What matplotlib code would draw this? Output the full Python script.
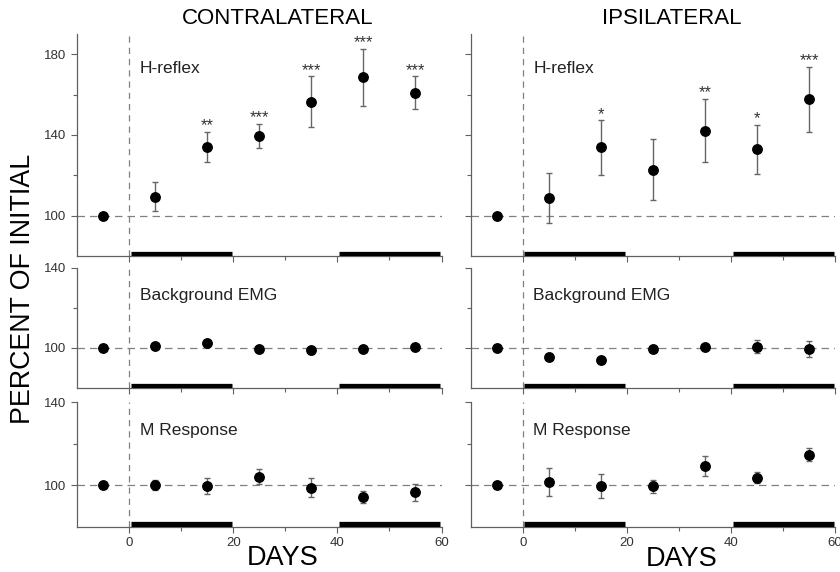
import numpy as np
import matplotlib.pyplot as plt

plt.rcParams['font.family'] = ['Liberation Sans', 'DejaVu Sans']

days = [-5, 5, 15, 25, 35, 45, 55]

# contralateral
contra_h = [100, 109.5, 134, 139.5, 156.5, 168.5, 161]
contra_h_err = [0, 7, 7.5, 6, 12.5, 14, 8]
contra_h_stars = ['', '', '**', '***', '***', '***', '***']
contra_emg = [100, 100.8, 102.3, 99.5, 98.8, 99.7, 100.7]
contra_emg_err = [0, 0.8, 0.8, 0.8, 1.8, 1.5, 1.2]
contra_m = [100, 100.2, 99.7, 104.2, 98.9, 94.4, 96.6]
contra_m_err = [0, 2.5, 3.8, 3.5, 4.6, 3, 4]

# ipsilateral
ipsi_h = [100, 108.7, 133.8, 122.8, 142.2, 132.8, 157.7]
ipsi_h_err = [0, 12.5, 13.5, 15, 15.7, 12.3, 16]
ipsi_h_stars = ['', '', '*', '', '**', '*', '***']
ipsi_emg = [100.2, 95.3, 94, 99.5, 100.7, 100.7, 99.5]
ipsi_emg_err = [0, 0.8, 1.5, 0.8, 0.8, 3.3, 4]
ipsi_m = [100.3, 101.8, 99.7, 99.5, 109.3, 103.7, 114.7]
ipsi_m_err = [0, 6.7, 5.8, 3, 4.6, 2.5, 3]

# periods marked by thick bars
periods = [(0.3, 19.7), (40.3, 59.7)]

gray = '#606060'
fig = plt.figure(figsize=(8.4, 5.72), dpi=100)

lefts = [0.0917, 0.5603]
width = 0.4339
rows = [(0.5524, 0.388, (80, 190), 'H-reflex', 173),
        (0.3217, 0.2098, (80, 140), 'Background EMG', 126.3),
        (0.0787, 0.2185, (80, 140), 'M Response', 126.4)]

data = [
    [(contra_h, contra_h_err, contra_h_stars), (contra_emg, contra_emg_err, None), (contra_m, contra_m_err, None)],
    [(ipsi_h, ipsi_h_err, ipsi_h_stars), (ipsi_emg, ipsi_emg_err, None), (ipsi_m, ipsi_m_err, None)],
]

for c in range(2):
    for r in range(3):
        bottom, height, ylim, label, label_y = rows[r]
        ax = fig.add_axes([lefts[c], bottom, width, height])
        vals, errs, stars = data[c][r]

        ax.axhline(100, color='#808080', ls=(0, (6, 4)), lw=0.9, zorder=1)
        ax.axvline(0, color='#808080', ls=(0, (5, 4)), lw=0.9, zorder=1)
        ax.errorbar(days, vals, yerr=errs, fmt='o', color='black', ms=6.8,
                    ecolor='#666666', elinewidth=1, capsize=2.5, capthick=1, zorder=3)
        if stars is not None:
            for x, v, e, s in zip(days, vals, errs, stars):
                if s:
                    ax.text(x, v + e + 0.8, s, ha='center', va='baseline', fontsize=12, color='#333333')
        for a, b in periods:
            ax.plot([a, b], [81.2, 81.2], color='black', lw=3.8, solid_capstyle='butt', zorder=4)

        ax.text(2, label_y, label, fontsize=12.5, va='center', ha='left', color='#222222')

        ax.set_xlim(-10, 60)
        ax.set_ylim(*ylim)
        ax.spines['top'].set_visible(False)
        ax.spines['right'].set_visible(False)
        for sp in ['left', 'bottom']:
            ax.spines[sp].set_color(gray)
            ax.spines[sp].set_linewidth(0.9)

        ax.set_xticks([0, 20, 40, 60])
        ax.set_xticks([10, 30, 50], minor=True)
        if r == 0:
            ax.set_yticks([100, 140, 180])
            ax.set_yticks([120, 160], minor=True)
        else:
            ax.set_yticks([100, 140])
            ax.set_yticks([120], minor=True)
        ax.tick_params(which='both', color=gray, width=0.8, labelsize=9.5, labelcolor='#333333')
        ax.tick_params(which='major', length=4)
        ax.tick_params(which='minor', length=3)
        if r < 2:
            ax.tick_params(axis='x', labelbottom=False)
        if c == 1:
            ax.tick_params(axis='y', labelleft=False)
        ax.patch.set_alpha(0)

fig.text(0.33, 0.968, 'CONTRALATERAL', ha='center', va='center', fontsize=16)
fig.text(0.80, 0.968, 'IPSILATERAL', ha='center', va='center', fontsize=16)
fig.text(0.027, 0.495, 'PERCENT OF INITIAL', rotation=90, ha='center', va='center', fontsize=19.3)
fig.text(0.336, 0.0245, 'DAYS', ha='center', va='center', fontsize=19.5)
fig.text(0.811, 0.023, 'DAYS', ha='center', va='center', fontsize=19.5)

fig.savefig('out.png', dpi=100)
